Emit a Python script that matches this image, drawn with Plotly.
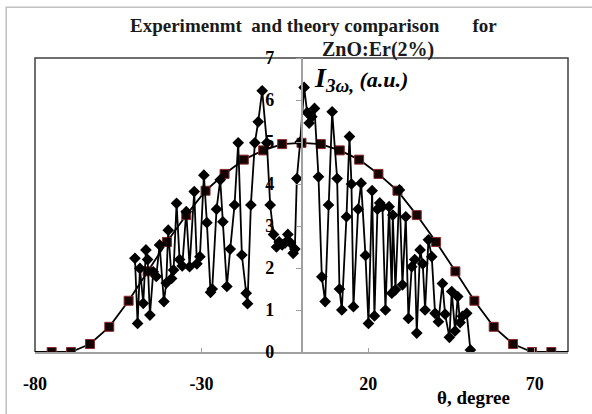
import plotly.graph_objects as go

# Theoretical third-harmonic intensity vs angle
theta_theory = [-75.0, -69.2, -63.5, -57.7, -51.9, -46.2, -40.4, -34.6, -28.8, -23.1,
                -17.3, -11.5, -5.8, 0.0, 5.8, 11.5, 17.3, 23.1, 28.8, 34.6,
                40.4, 46.2, 51.9, 57.7, 63.5, 69.2, 75.0]
i3_theory = [0.0, 0.0, 0.19, 0.6, 1.22, 1.92, 2.62, 3.26, 3.84, 4.24,
             4.58, 4.8, 4.95, 4.98, 4.95, 4.8, 4.58, 4.24, 3.84, 3.26,
             2.62, 1.92, 1.22, 0.6, 0.19, 0.0, 0.0]

# Measured third-harmonic intensity, ZnO:Er(2%)
theta_exp = [-50.0, -49.2, -48.5, -47.5, -46.7, -46.2, -45.5, -44.5, -43.6, -42.6,
             -41.3, -40.6, -40.0, -39.0, -38.4, -37.5, -36.6, -35.8, -34.6, -33.6,
             -32.2, -31.4, -30.5, -29.3, -28.4, -27.3, -26.8, -25.5, -24.4, -23.6,
             -22.4, -21.4, -20.1, -19.0, -17.9, -16.6, -16.2, -15.2, -14.0, -13.0,
             -11.8, -10.4, -9.4, -8.4, -7.5, -6.7, -5.8, -4.9, -4.1, -3.3,
             -2.5, -2.0, -1.4, -0.4, 0.8, 1.7, 2.3, 3.1, 3.9, 5.1,
             6.1, 7.1, 8.1, 9.2, 10.7, 11.4, 12.1, 13.5, 14.4, 15.0,
             15.6, 17.0, 17.9, 19.2, 20.1, 21.2, 21.9, 22.8, 23.5, 24.3,
             25.2, 26.3, 27.1, 27.4, 28.2, 29.4, 30.3, 31.3, 32.1, 33.1,
             34.0, 34.6, 35.6, 36.4, 37.1, 38.1, 39.1, 40.1, 41.1, 42.3,
             43.1, 44.4, 45.1, 46.1, 46.9, 47.6, 48.3, 49.6, 50.7]
i3_exp = [2.23, 0.68, 1.99, 1.16, 2.43, 2.2, 0.88, 1.91, 1.8, 2.55,
          1.2, 1.64, 2.9, 1.75, 1.95, 3.54, 2.2, 2.05, 3.34, 2.03,
          3.82, 2.1, 2.27, 4.21, 3.08, 1.42, 1.5, 3.4, 4.1, 3.1,
          1.56, 2.45, 3.5, 4.98, 2.31, 1.4, 1.15, 3.5, 4.98, 5.48,
          6.22, 4.98, 3.5, 2.8, 2.5, 2.62, 2.55, 2.6, 2.8, 2.6,
          2.35, 2.45, 4.13, 5.0, 6.3, 5.7, 5.45, 5.6, 5.8, 4.17,
          1.79, 1.2, 3.5, 5.72, 4.13, 1.5, 1.0, 3.22, 5.13, 4.0,
          1.08, 3.4, 4.02, 2.3, 0.68, 3.84, 0.86, 3.4, 3.55, 3.46,
          1.0, 3.46, 1.4, 3.26, 1.48, 3.86, 1.6, 3.22, 0.8, 2.03,
          2.2, 0.45, 2.43, 2.1, 1.0, 2.67, 2.27, 0.92, 0.72, 1.63,
          0.9, 0.35, 1.44, 0.5, 1.32, 0.7, 0.85, 0.92, 0.05]

x_range = [-80, 80]
y_range = [0, 7]
x_ticks = [-80, -30, 20, 70]
y_ticks = [0, 1, 2, 3, 4, 5, 6, 7]

SERIF = "Liberation Serif, Times New Roman, serif"
NB = "\u00a0"

fig = go.Figure()

# theory curve runs along the baseline out to the axis limits
fig.add_trace(go.Scatter(
    x=[x_range[0]] + theta_theory + [x_range[1]],
    y=[y_range[0]] + i3_theory + [y_range[0]],
    mode="lines", line=dict(color="black", width=1.8),
    hoverinfo="skip", showlegend=False))
fig.add_trace(go.Scatter(
    x=theta_theory, y=i3_theory, mode="markers",
    marker=dict(symbol="square", size=9, color="#140404",
                line=dict(color="#8a2b2b", width=1)),
    showlegend=False))
fig.add_trace(go.Scatter(
    x=theta_exp, y=i3_exp, mode="lines+markers",
    line=dict(color="black", width=1.8),
    marker=dict(symbol="diamond", size=9, color="black"),
    showlegend=False))

fig.update_layout(
    width=592, height=414,
    margin=dict(l=35, r=24, t=58, b=62),
    paper_bgcolor="white", plot_bgcolor="white",
    font=dict(family=SERIF, size=17, color="black"),
    xaxis=dict(range=x_range, tickmode="array", tickvals=x_ticks,
               ticktext=[str(v) for v in x_ticks],
               showgrid=False, zeroline=False,
               showline=True, linecolor="#a0a0a0", linewidth=1.5,
               ticks="inside", ticklen=4, tickcolor="#a0a0a0",
               ticklabelstandoff=15,
               tickfont=dict(family=SERIF, size=18, weight="bold")),
    yaxis=dict(range=y_range, tickmode="array", tickvals=y_ticks,
               anchor="free", position=0.5,
               showgrid=False, zeroline=False,
               showline=True, linecolor="#a0a0a0", linewidth=1.5,
               ticks="outside", ticklen=5, tickcolor="#a0a0a0",
               ticklabelstandoff=18,
               tickfont=dict(family=SERIF, size=18, weight="bold")),
    shapes=[
        # outer chart frame
        dict(type="rect", xref="paper", yref="paper",
             x0=-0.054, x1=1.1, y0=-0.3, y1=1.173,
             line=dict(color="#c0c0c0", width=1.5), layer="below"),
        # plot-area frame (left, top, right)
        dict(type="path", xref="paper", yref="paper",
             path="M 0,0 L 0,1 L 1,1 L 1,0",
             line=dict(color="#404040", width=1.5), layer="below"),
    ],
    annotations=[
        dict(text="<b>Experimenmt" + NB + " and theory comparison" + NB * 6 + " for</b>",
             xref="paper", yref="paper", x=0.1745, y=1.112,
             xanchor="left", yanchor="middle", showarrow=False,
             font=dict(family=SERIF, size=19, color="#1a1a1a")),
        dict(text="<b>ZnO:Er(2%)</b>",
             xref="paper", yref="paper", x=0.535, y=1.03,
             xanchor="left", yanchor="middle", showarrow=False,
             font=dict(family=SERIF, size=20, color="#1a1a1a")),
        dict(text="<b><i><span style='font-size:28px'>I</span>"
                  "<sub><span style='font-size:19px'>3\u03c9,</span></sub>"
                  "<span style='font-size:22px'> (a.u.)</span></i></b>",
             xref="paper", yref="paper", x=0.52, y=0.93,
             xanchor="left", yanchor="middle", showarrow=False,
             font=dict(family=SERIF, size=22, color="black")),
        dict(text="<b>\u03b8, degree</b>",
             xref="paper", yref="paper", x=0.8236, y=-0.156,
             xanchor="center", yanchor="middle", showarrow=False,
             font=dict(family=SERIF, size=19, color="black")),
    ],
)

fig.write_html("out.html")
